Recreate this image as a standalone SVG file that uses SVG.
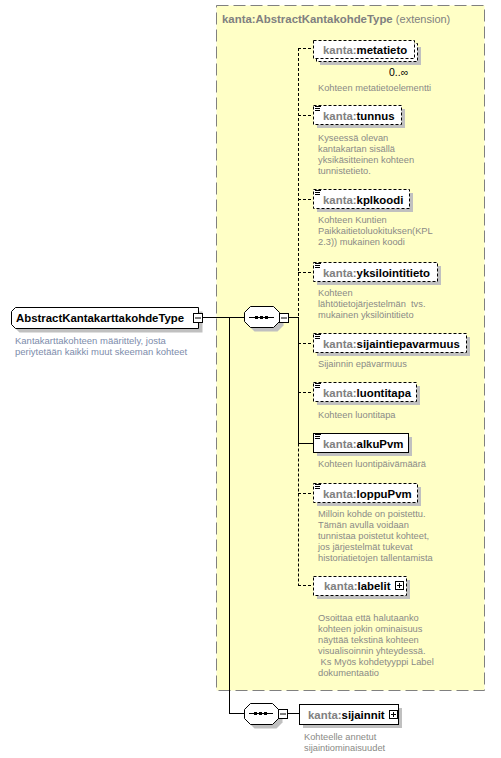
<svg xmlns="http://www.w3.org/2000/svg" width="501" height="758" viewBox="0 0 501 758">
<style>
.lbl{font-family:"Liberation Sans",Arial,sans-serif;font-size:11.4px;font-weight:bold;fill:#000}
.ns{fill:#808080}
.ttl{font-family:"Liberation Sans",Arial,sans-serif;font-size:11.4px;fill:#808080}
.desc{font-family:"Liberation Sans",Arial,sans-serif;font-size:9.3px;fill:#8a8a86}
.rdesc{font-family:"Liberation Sans",Arial,sans-serif;font-size:9.5px;fill:#7d8cab}
.box{fill:#fff;stroke:#000;stroke-width:1}
.dbox{fill:#fff;stroke:#000;stroke-width:1;stroke-dasharray:3,2}
.sh{fill:#c0c0c0}
.ln{stroke:#000;stroke-width:1;fill:none}
.dln{stroke:#000;stroke-width:1;fill:none;stroke-dasharray:3,2}
.ic{stroke:#000;stroke-width:1}
</style>
<rect width="501" height="758" fill="#fff"/>
<g id="extension">
<rect x="216.5" y="5.5" width="268" height="685" fill="#ffffc6" stroke="#808080" stroke-dasharray="12,5"/>
<text x="222" y="23" class="ttl"><tspan font-weight="bold">kanta:AbstractKantakohdeType</tspan> <tspan font-size="11px">(extension)</tspan></text>
</g>
<g id="connectors">
<line x1="202" y1="317.5" x2="244" y2="317.5" class="ln"/>
<line x1="229.5" y1="317" x2="229.5" y2="713.5" class="ln"/>
<line x1="229" y1="713.5" x2="244" y2="713.5" class="ln"/>
<line x1="288" y1="317.5" x2="298" y2="317.5" class="ln"/>
<line x1="298.5" y1="48" x2="298.5" y2="317" class="dln"/>
<line x1="298.5" y1="317" x2="298.5" y2="443.5" class="ln"/>
<line x1="298.5" y1="443.5" x2="298.5" y2="585.5" class="dln"/>
<line x1="298" y1="48.5" x2="313" y2="48.5" class="dln"/>
<line x1="298" y1="115.5" x2="313" y2="115.5" class="dln"/>
<line x1="298" y1="199.5" x2="313" y2="199.5" class="dln"/>
<line x1="298" y1="272.5" x2="313" y2="272.5" class="dln"/>
<line x1="298" y1="343.5" x2="313" y2="343.5" class="dln"/>
<line x1="298" y1="392.5" x2="313" y2="392.5" class="dln"/>
<line x1="298" y1="443.5" x2="313" y2="443.5" class="ln"/>
<line x1="298" y1="493.5" x2="313" y2="493.5" class="dln"/>
<line x1="298" y1="585.5" x2="313" y2="585.5" class="dln"/>
<line x1="287" y1="713.5" x2="299" y2="713.5" class="ln"/>
</g>
<g id="root">
<path d="M19.5,311.5 H202.5 V332.5 H19.5 L15.5,328.5 V315.5 Z" class="sh"/>
<path d="M15.5,307.5 H198.5 V328.5 H15.5 L11.5,324.5 V311.5 Z" class="box"/>
<text x="16" y="321.5" class="lbl">AbstractKantakarttakohdeType</text>
<rect x="193.5" y="313.5" width="9" height="9" class="box"/>
<line x1="195" y1="318" x2="201" y2="318" class="ic"/>
<text class="rdesc"><tspan x="15" y="344">Kantakarttakohteen määrittely, josta</tspan><tspan x="15" y="355">periytetään kaikki muut skeeman kohteet</tspan></text>
</g>
<g id="sequence1">
<path d="M254.5,310.5 H277.5 L283.5,316.5 V325.5 L277.5,331.5 H254.5 L248.5,325.5 V316.5 Z" class="sh"/>
<path d="M250.5,306.5 H273.5 L279.5,312.5 V321.5 L273.5,327.5 H250.5 L244.5,321.5 V312.5 Z" class="box"/>
<line x1="249" y1="317.5" x2="274" y2="317.5" class="ln"/>
<rect x="255" y="316" width="3" height="3"/><rect x="260" y="316" width="3" height="3"/><rect x="265" y="316" width="3" height="3"/>
<rect x="279.5" y="313.5" width="9" height="9" class="box"/>
<line x1="281" y1="318" x2="287" y2="318" class="ic"/>
</g>
<g id="metatieto">
<rect x="320" y="47" width="101" height="18" class="sh"/>
<rect x="316.5" y="43.5" width="101" height="18" class="dbox"/>
<rect x="313.5" y="40.5" width="101" height="18" class="dbox"/>
<text x="323" y="53.5" class="lbl"><tspan class="ns">kanta:</tspan>metatieto</text>
<text x="389" y="76" font-family="Liberation Sans,Arial,sans-serif" font-size="10.5px" fill="#000">0..∞</text>
<text x="318" y="91" class="desc">Kohteen metatietoelementti</text>
</g>
<g id="tunnus">
<rect x="317" y="109" width="88" height="19" class="sh"/>
<rect x="313.5" y="105.5" width="88" height="19" class="dbox"/>
<path d="M315,106.5 H321 M315,108.5 H320 M315,110.5 H320" class="ic"/>
<text x="323" y="119.5" class="lbl"><tspan class="ns">kanta:</tspan>tunnus</text>
<text class="desc"><tspan x="318" y="141">Kyseessä olevan</tspan><tspan x="318" y="152">kantakartan sisällä</tspan><tspan x="318" y="163">yksikäsitteinen kohteen</tspan><tspan x="318" y="174">tunnistetieto.</tspan></text>
</g>
<g id="kplkoodi">
<rect x="317" y="193" width="96" height="19" class="sh"/>
<rect x="313.5" y="189.5" width="96" height="19" class="dbox"/>
<path d="M315,190.5 H321 M315,192.5 H320 M315,194.5 H320" class="ic"/>
<text x="323" y="203.5" class="lbl"><tspan class="ns">kanta:</tspan>kplkoodi</text>
<text class="desc"><tspan x="318" y="223">Kohteen Kuntien</tspan><tspan x="318" y="234">Paikkaitietoluokituksen(KPL</tspan><tspan x="318" y="245">2.3)) mukainen koodi</tspan></text>
</g>
<g id="yksilointitieto">
<rect x="317" y="266" width="124" height="19" class="sh"/>
<rect x="313.5" y="262.5" width="124" height="19" class="dbox"/>
<path d="M315,263.5 H321 M315,265.5 H320 M315,267.5 H320" class="ic"/>
<text x="323" y="276.5" class="lbl"><tspan class="ns">kanta:</tspan>yksilointitieto</text>
<text class="desc" xml:space="preserve"><tspan x="318" y="296">Kohteen</tspan><tspan x="318" y="307">lähtötietojärjestelmän  tvs.</tspan><tspan x="318" y="318">mukainen yksilöintitieto</tspan></text>
</g>
<g id="sijaintiepavarmuus">
<rect x="317" y="337" width="153" height="19" class="sh"/>
<rect x="313.5" y="333.5" width="153" height="19" class="dbox"/>
<path d="M315,334.5 H321 M315,336.5 H320 M315,338.5 H320" class="ic"/>
<text x="323" y="347.5" class="lbl"><tspan class="ns">kanta:</tspan>sijaintiepavarmuus</text>
<text x="318" y="367" class="desc">Sijainnin epävarmuus</text>
</g>
<g id="luontitapa">
<rect x="317" y="386" width="103" height="19" class="sh"/>
<rect x="313.5" y="382.5" width="103" height="19" class="dbox"/>
<path d="M315,383.5 H321 M315,385.5 H320 M315,387.5 H320" class="ic"/>
<text x="323" y="396.5" class="lbl"><tspan class="ns">kanta:</tspan>luontitapa</text>
<text x="318" y="418" class="desc">Kohteen luontitapa</text>
</g>
<g id="alkuPvm">
<rect x="317" y="437" width="95" height="19" class="sh"/>
<rect x="313.5" y="433.5" width="95" height="19" class="box"/>
<path d="M315,434.5 H321 M315,436.5 H320 M315,438.5 H320" class="ic"/>
<text x="323" y="447.5" class="lbl"><tspan class="ns">kanta:</tspan>alkuPvm</text>
<text x="318" y="467" class="desc">Kohteen luontipäivämäärä</text>
</g>
<g id="loppuPvm">
<rect x="317" y="487" width="104" height="19" class="sh"/>
<rect x="313.5" y="483.5" width="104" height="19" class="dbox"/>
<path d="M315,484.5 H321 M315,486.5 H320 M315,488.5 H320" class="ic"/>
<text x="323" y="497.5" class="lbl"><tspan class="ns">kanta:</tspan>loppuPvm</text>
<text class="desc"><tspan x="318" y="517">Milloin kohde on poistettu.</tspan><tspan x="318" y="528">Tämän avulla voidaan</tspan><tspan x="318" y="539">tunnistaa poistetut kohteet,</tspan><tspan x="318" y="550">jos järjestelmät tukevat</tspan><tspan x="318" y="561">historiatietojen tallentamista</tspan></text>
</g>
<g id="labelit">
<rect x="317" y="580" width="93" height="19" class="sh"/>
<rect x="313.5" y="576.5" width="93" height="19" class="dbox"/>
<text x="324" y="590" class="lbl"><tspan class="ns">kanta:</tspan>labelit</text>
<rect x="395.5" y="581.5" width="8" height="8" class="box"/>
<path d="M397,585.5 H402 M399.5,583 V588" class="ic"/>
<text class="desc" xml:space="preserve"><tspan x="318" y="621">Osoittaa että halutaanko</tspan><tspan x="318" y="632">kohteen jokin ominaisuus</tspan><tspan x="318" y="643">näyttää tekstinä kohteen</tspan><tspan x="318" y="654">visualisoinnin yhteydessä.</tspan><tspan x="318" y="665"> Ks Myös kohdetyyppi Label</tspan><tspan x="318" y="676">dokumentaatio</tspan></text>
</g>
<g id="sequence2">
<path d="M254.5,707.5 H276.5 L282.5,713.5 V722.5 L276.5,728.5 H254.5 L248.5,722.5 V713.5 Z" class="sh"/>
<path d="M250.5,703.5 H272.5 L278.5,709.5 V718.5 L272.5,724.5 H250.5 L244.5,718.5 V709.5 Z" class="box"/>
<line x1="249" y1="713.5" x2="273" y2="713.5" class="ln"/>
<rect x="254" y="712" width="3" height="3"/><rect x="259" y="712" width="3" height="3"/><rect x="264" y="712" width="3" height="3"/>
<rect x="278.5" y="709.5" width="9" height="9" class="box"/>
<line x1="280" y1="714" x2="286" y2="714" class="ic"/>
</g>
<g id="sijainnit">
<rect x="303" y="708" width="99" height="20" class="sh"/>
<rect x="299.5" y="704.5" width="99" height="20" class="box"/>
<text x="308" y="718.5" class="lbl"><tspan class="ns">kanta:</tspan>sijainnit</text>
<rect x="389.5" y="710.5" width="8" height="8" class="box"/>
<path d="M391,714.5 H396 M393.5,712 V717" class="ic"/>
<text class="desc"><tspan x="304" y="740">Kohteelle annetut</tspan><tspan x="304" y="751">sijaintiominaisuudet</tspan></text>
</g>
</svg>
